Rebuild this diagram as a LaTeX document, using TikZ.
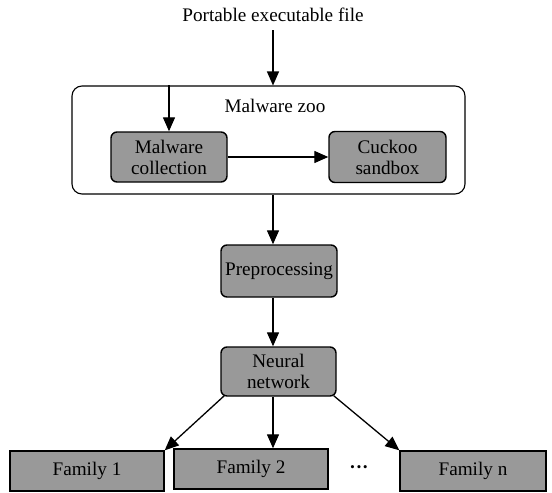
\documentclass[tikz,border=0pt]{standalone}
\usepackage{fontspec}
\setmainfont{Liberation Serif}
\newfontfamily\timesf{Liberation Serif}
\usetikzlibrary{arrows.meta}
\begin{document}
\begin{tikzpicture}[x=1pt,y=-1pt,
  txt/.style={font=\timesf\fontsize{19.2}{21}\selectfont},
  gbox/.style={txt,draw=black,line width=1.4pt,fill=black!40,rounded corners=6pt,align=center,inner sep=0pt},
  fbox/.style={txt,draw=black,line width=1.4pt,fill=black!40,align=center,inner sep=0pt},
  arr/.style={line width=1.3pt,-{Triangle[length=14pt,width=12pt]}},
  lbl/.style={txt,inner sep=0pt}]
\useasboundingbox (0,0) rectangle (552,493);
\node[lbl] (pe) at (273,15) {Portable executable file};
\node[draw=black,line width=1.1pt,rounded corners=10pt,minimum width=393pt,minimum height=108pt,inner sep=0pt] (zoo) at (268.5,140) {};
\node[lbl] (zt) at (275,106) {Malware zoo};
\node[gbox,minimum width=116pt,minimum height=50pt] (mc) at (169,157) {Malware\\collection};
\node[gbox,minimum width=117pt,minimum height=51pt] (cs) at (387.5,157) {Cuckoo\\sandbox};
\node[gbox,minimum width=116pt,minimum height=52pt] (pp) at (279,271) {Preprocessing};
\node[gbox,minimum width=115pt,minimum height=49pt] (nn) at (278.5,371.5) {Neural\\network};
\node[fbox,minimum width=154pt,minimum height=40pt] (f1) at (87,471) {Family 1};
\node[fbox,minimum width=154pt,minimum height=40pt] (f2) at (251,469) {Family 2};
\node[fbox,minimum width=146pt,minimum height=40pt] (fn) at (473,471) {Family n};
\node[lbl] (dots) at (359,470) {\textbf{\textperiodcentered\textperiodcentered\textperiodcentered}};
\coordinate (a0) at (273,30);
\draw[arr] (a0) -- (zoo.north -| a0);
\draw[arr] (zoo.north -| mc) -- (mc.north);
\draw[arr] (mc.east) -- (cs.west);
\draw[arr] (zoo.south -| 273,0) -- (pp.north -| 273,0);
\draw[arr] (pp.south -| 273,0) -- (nn.north -| 273,0);
\draw[arr] (nn.south west) ++(4,-1) -- (f1.north east);
\draw[arr] (nn.south -| 273,0) -- (f2.north -| 273,0);
\draw[arr] (nn.south east) ++(-3,-1) -- (fn.north west);
\end{tikzpicture}
\end{document}
